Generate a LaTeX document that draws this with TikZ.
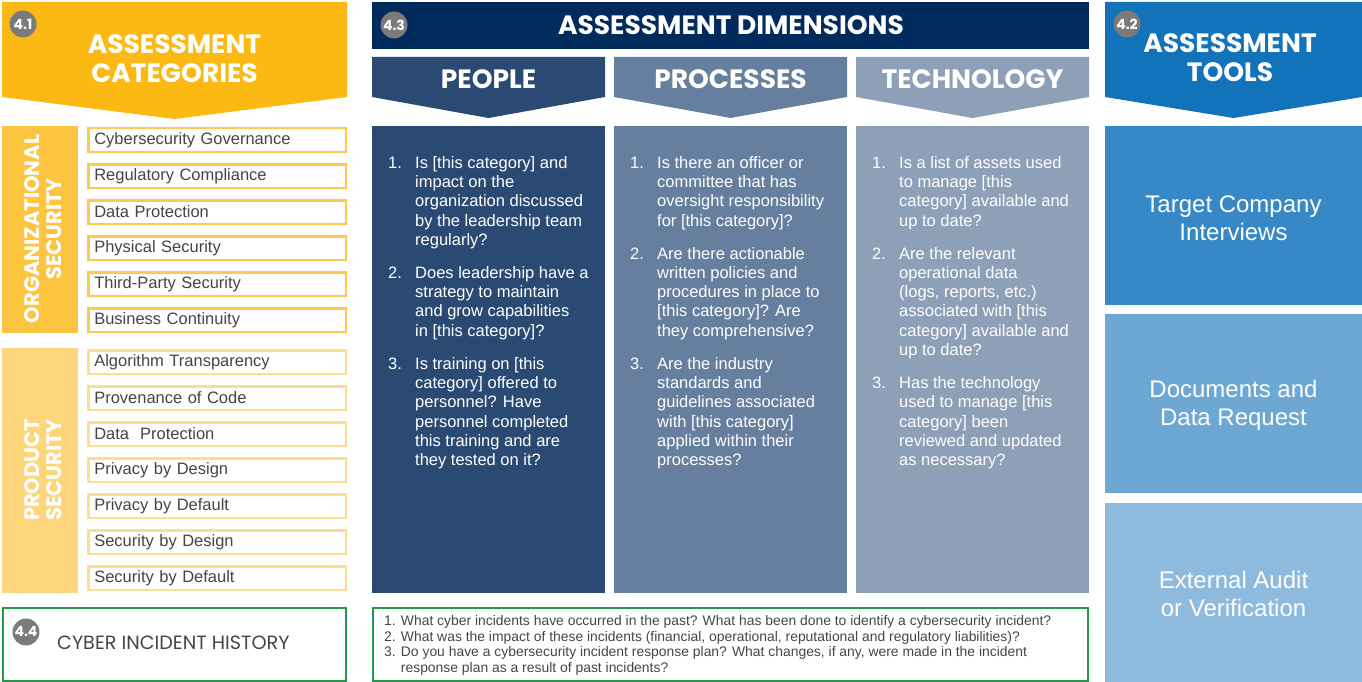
\documentclass[tikz,border=0pt]{standalone}
\usepackage{fontspec}
\setmainfont{Liberation Sans}
\newfontfamily\headfont{Poppins}
\usetikzlibrary{positioning}

\definecolor{catyellow}{HTML}{FDB913}
\definecolor{orgyellow}{HTML}{FDC43F}
\definecolor{orgline}{HTML}{FDC94F}
\definecolor{prodyellow}{HTML}{FDD57A}
\definecolor{prodline}{HTML}{FEDD8F}
\definecolor{dimnavy}{HTML}{002B5C}
\definecolor{peoplecol}{HTML}{2A4A73}
\definecolor{processcol}{HTML}{667F9E}
\definecolor{techcol}{HTML}{8DA0B7}
\definecolor{toolblue}{HTML}{1272BA}
\definecolor{toolone}{HTML}{3688C6}
\definecolor{tooltwo}{HTML}{6DA7D4}
\definecolor{toolthree}{HTML}{8EBADE}
\definecolor{histgreen}{HTML}{23994B}
\definecolor{badgegray}{HTML}{7B7B7B}
\definecolor{itemgray}{HTML}{454545}

\newcommand{\qn}[1]{\makebox[27pt][l]{#1}}
\newcommand{\qi}{\makebox[27pt]{}}

\tikzset{
  badge/.style={circle, fill=badgegray, text=white, inner sep=0pt, minimum size=27pt,
    font=\headfont\bfseries\fontsize{14}{14}\selectfont},
  headtext/.style={text=white, align=center, font=\headfont\bfseries\fontsize{26.5}{29}\selectfont},
  orgitem/.style={draw=orgline, line width=2.5pt, fill=white, text width=245.5pt, inner xsep=6pt,
    inner ysep=0pt, minimum height=23.5pt, align=left, text=itemgray, anchor=north west,
    font=\fontsize{16.5}{18}\selectfont},
  proditem/.style={orgitem, draw=prodline},
  sidetext/.style={rotate=90, text=white, align=center, font=\headfont\bfseries\fontsize{21}{22.5}\selectfont},
  qtext/.style={text=white, anchor=north west, inner sep=0pt, align=left, font=\fontsize{16.5}{19.3}\selectfont},
  tooltext/.style={text=white, align=center, font=\fontsize{24}{28}\selectfont},
}

\begin{document}
\begin{tikzpicture}[x=1pt, y=-1pt]
  \useasboundingbox (0,0) rectangle (1362,682);

  % 4.1 assessment categories
  \fill[catyellow] (2,2) -- (347,2) -- (347,97) -- (174.5,119) -- (2,97) -- cycle;
  \node[headtext] (cattitle) at (174.5,58.5) {ASSESSMENT\\CATEGORIES};
  \node[badge] (badgeone) at (23,24) {4.1};

  \fill[orgyellow] (2,126) rectangle (78,333);
  \node[sidetext] (orgside) at (43,229) {ORGANIZATIONAL\\SECURITY};
  \foreach \txt [count=\i] in {Cybersecurity Governance, Regulatory Compliance, Data Protection,
      Physical Security, Third-Party Security, Business Continuity}
    \node[orgitem] (org\i) at (87,{127+36*(\i-1)}) {\txt};

  \fill[prodyellow] (2,348) rectangle (78,593);
  \node[sidetext] (prodside) at (43,470) {PRODUCT\\SECURITY};
  \foreach \txt [count=\i] in {Algorithm Transparency, Provenance of Code, {Data\ \ Protection},
      Privacy by Design, Privacy by Default, Security by Design, Security by Default}
    \node[proditem] (prod\i) at (87,{349+36*(\i-1)}) {\txt};

  % 4.4 cyber incident history
  \draw[histgreen, line width=2pt] (3,608) rectangle (346,681);
  \node[badge] (badgefour) at (26,632) {4.4};
  \node[anchor=west, inner sep=0pt, text=itemgray, font=\headfont\fontsize{19.2}{19}\selectfont] (histtitle)
    at (57,643) {CYBER INCIDENT HISTORY};

  % 4.3 assessment dimensions
  \fill[dimnavy] (372,2) rectangle (1089,49);
  \node[badge] (badgethree) at (394,25) {4.3};
  \node[headtext] (dimtitle) at (731,25) {ASSESSMENT DIMENSIONS};

  \fill[peoplecol] (372,57) -- (605,57) -- (605,97) -- (488.5,118) -- (372,97) -- cycle;
  \fill[processcol] (614,57) -- (847,57) -- (847,97) -- (730.5,118) -- (614,97) -- cycle;
  \fill[techcol] (856,57) -- (1089,57) -- (1089,97) -- (972.5,118) -- (856,97) -- cycle;
  \node[headtext] (peoplehead) at (488.5,79) {PEOPLE};
  \node[headtext] (processhead) at (730.5,79) {PROCESSES};
  \node[headtext] (techhead) at (972.5,79) {TECHNOLOGY};

  \fill[peoplecol] (372,126) rectangle (605,593);
  \fill[processcol] (614,126) rectangle (847,593);
  \fill[techcol] (856,126) rectangle (1089,593);

  \node[qtext] (peopleq) at (388,156) {%
    \qn{1.}Is [this category] and\\ \qi impact on the\\ \qi organization discussed\\
    \qi by the leadership team\\ \qi regularly?\\[13.7pt]
    \qn{2.}Does leadership have a\\ \qi strategy to maintain\\ \qi and grow capabilities\\
    \qi in [this category]?\\[13.7pt]
    \qn{3.}Is training on [this\\ \qi category] offered to\\ \qi personnel? Have\\
    \qi personnel completed\\ \qi this training and are\\ \qi they tested on it?};
  \node[qtext] (processq) at (630,156) {%
    \qn{1.}Is there an officer or\\ \qi committee that has\\ \qi oversight responsibility\\
    \qi for [this category]?\\[13.7pt]
    \qn{2.}Are there actionable\\ \qi written policies and\\ \qi procedures in place to\\
    \qi [this category]? Are\\ \qi they comprehensive?\\[13.7pt]
    \qn{3.}Are the industry\\ \qi standards and\\ \qi guidelines associated\\
    \qi with [this category]\\ \qi applied within their\\ \qi processes?};
  \node[qtext] (techq) at (872,156) {%
    \qn{1.}Is a list of assets used\\ \qi to manage [this\\ \qi category] available and\\
    \qi up to date?\\[13.7pt]
    \qn{2.}Are the relevant\\ \qi operational data\\ \qi (logs, reports, etc.)\\
    \qi associated with [this\\ \qi category] available and\\ \qi up to date?\\[13.7pt]
    \qn{3.}Has the technology\\ \qi used to manage [this\\ \qi category] been\\
    \qi reviewed and updated\\ \qi as necessary?};

  \draw[histgreen, line width=2pt] (373,608) rectangle (1088,681);
  \node[anchor=north west, inner sep=0pt, align=left, text=itemgray,
    font=\fontsize{13.9}{15.5}\selectfont] (histq) at (384,615.5) {%
    1. What cyber incidents have occurred in the past? What has been done to identify a cybersecurity incident?\\
    2. What was the impact of these incidents (financial, operational, reputational and regulatory liabilities)?\\
    3. Do you have a cybersecurity incident response plan? What changes, if any, were made in the incident\\
    \phantom{3. }response plan as a result of past incidents?};

  % 4.2 assessment tools
  \fill[toolblue] (1105,2) -- (1362,2) -- (1362,97) -- (1233.5,118) -- (1105,97) -- cycle;
  \node[headtext] (tooltitle) at (1230,58) {ASSESSMENT\\TOOLS};
  \node[badge] (badgetwo) at (1127,24) {4.2};

  \fill[toolone] (1105,126) rectangle (1362,305);
  \fill[tooltwo] (1105,314) rectangle (1362,493);
  \fill[toolthree] (1105,503) rectangle (1362,682);
  \node[tooltext] (interviews) at (1233.5,218) {Target Company\\Interviews};
  \node[tooltext] (docrequest) at (1233.5,405.5) {Documents and\\Data Request};
  \node[tooltext] (extaudit) at (1233.5,594) {External Audit\\or Verification};
\end{tikzpicture}
\end{document}
